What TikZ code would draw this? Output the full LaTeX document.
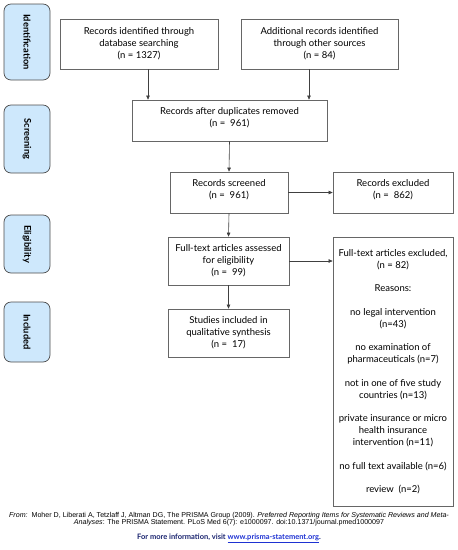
\documentclass[tikz,border=0pt]{standalone}
\usepackage{fontspec}
\setmainfont{Lato}
\newfontfamily\citefont{Liberation Sans}
\usetikzlibrary{arrows.meta}
\definecolor{stagefill}{RGB}{206,232,252}
\definecolor{linkblue}{RGB}{30,50,210}
\definecolor{navytext}{RGB}{25,35,110}
\begin{document}
\begin{tikzpicture}[x=1pt, y=-1pt,
  box/.style={draw=black!60, line width=0.7pt, align=center, inner sep=0pt, font=\fontsize{9.5}{12}\selectfont},
  stage/.style={draw=black!70, fill=stagefill, rounded corners=7pt, line width=0.7pt, rotate=-90, minimum height=46, inner sep=0pt, font=\fontsize{9.3}{10}\selectfont\bfseries},
  arr/.style={draw=black!75, line width=0.6pt, -{Triangle[length=4pt, width=3.5pt]}}]
\useasboundingbox (0,0) rectangle (458,550);

\node[stage, minimum width=76] (sident) at (27,42) {Identification};
\node[stage, minimum width=68] (sscreen) at (27,139) {Screening};
\node[stage, minimum width=58] (selig) at (27,244) {Eligibility};
\node[stage, minimum width=60] (sincl) at (27,332) {Included};

\node[box, minimum width=158, minimum height=50] (dbrec) at (139,44) {Records identified through\\database searching\\(n = 1327)};
\node[box, minimum width=157, minimum height=50] (otherrec) at (319.5,44) {Additional records identified\\through other sources\\(n = 84)};
\node[box, minimum width=195, minimum height=41] (dedup) at (229.5,120.5) {Records after duplicates removed\\(n =\ \ 961)\\[-4pt]};
\node[box, minimum width=118, minimum height=41] (screened) at (229,192.5) {Records screened\\(n =\ \ 961)\\[-4pt]};
\node[box, minimum width=120, minimum height=41] (recexcl) at (393,192.5) {Records excluded\\(n =\ \ 862)\\[-4pt]};
\node[box, minimum width=121, minimum height=48] (fulltext) at (228.5,261) {Full-text articles assessed\\for eligibility\\(n =\ \ 99)};
\node[box, minimum width=121, minimum height=48] (studies) at (228.5,333) {Studies included in\\qualitative synthesis\\(n =\ \ 17)};
\node[box, minimum width=120, minimum height=269] (ftexcl) at (393,371.5) {Full-text articles excluded,\\(n = 82)\\[11.5pt]
  Reasons:\\[11.5pt]
  no legal intervention\\(n=43)\\[11.5pt]
  no examination of\\pharmaceuticals (n=7)\\[11.5pt]
  not in one of five study\\countries (n=13)\\[11.5pt]
  private insurance or micro\\health insurance\\intervention (n=11)\\[11.5pt]
  no full text available (n=6)\\[11.5pt]
  review\ \ (n=2)};

\draw[arr] ([xshift=9]dbrec.south) -- ([xshift=9]dbrec.south |- dedup.north);
\draw[arr] ([xshift=-10.5]otherrec.south) -- ([xshift=-10.5]otherrec.south |- dedup.north);
\draw[arr] (dedup.south) -- (screened.north);
\draw[arr] (screened.east) -- (recexcl.west);
\draw[arr] (screened.south) -- (fulltext.north);
\draw[arr] (fulltext.east) -- (fulltext.east -| ftexcl.west);
\draw[arr] (fulltext.south) -- (studies.north);

\node[align=center, inner sep=0pt, font=\citefont\fontsize{7.1}{7.5}\selectfont] (source) at (229,519) {\textit{From:}\ \ Moher D, Liberati A, Tetzlaff J, Altman DG, The PRISMA Group (2009). \textit{Preferred Reporting Items for Systematic Reviews and Meta-}\\\textit{Analyses}: The PRISMA Statement. PLoS Med 6(7): e1000097. doi:10.1371/journal.pmed1000097};
\node[inner sep=0pt, text=navytext, font=\fontsize{7.5}{8}\selectfont\bfseries] (moreinfo) at (229,538) {For more information, visit \textcolor{linkblue}{\underline{www.prisma-statement.org}}.};
\end{tikzpicture}
\end{document}
